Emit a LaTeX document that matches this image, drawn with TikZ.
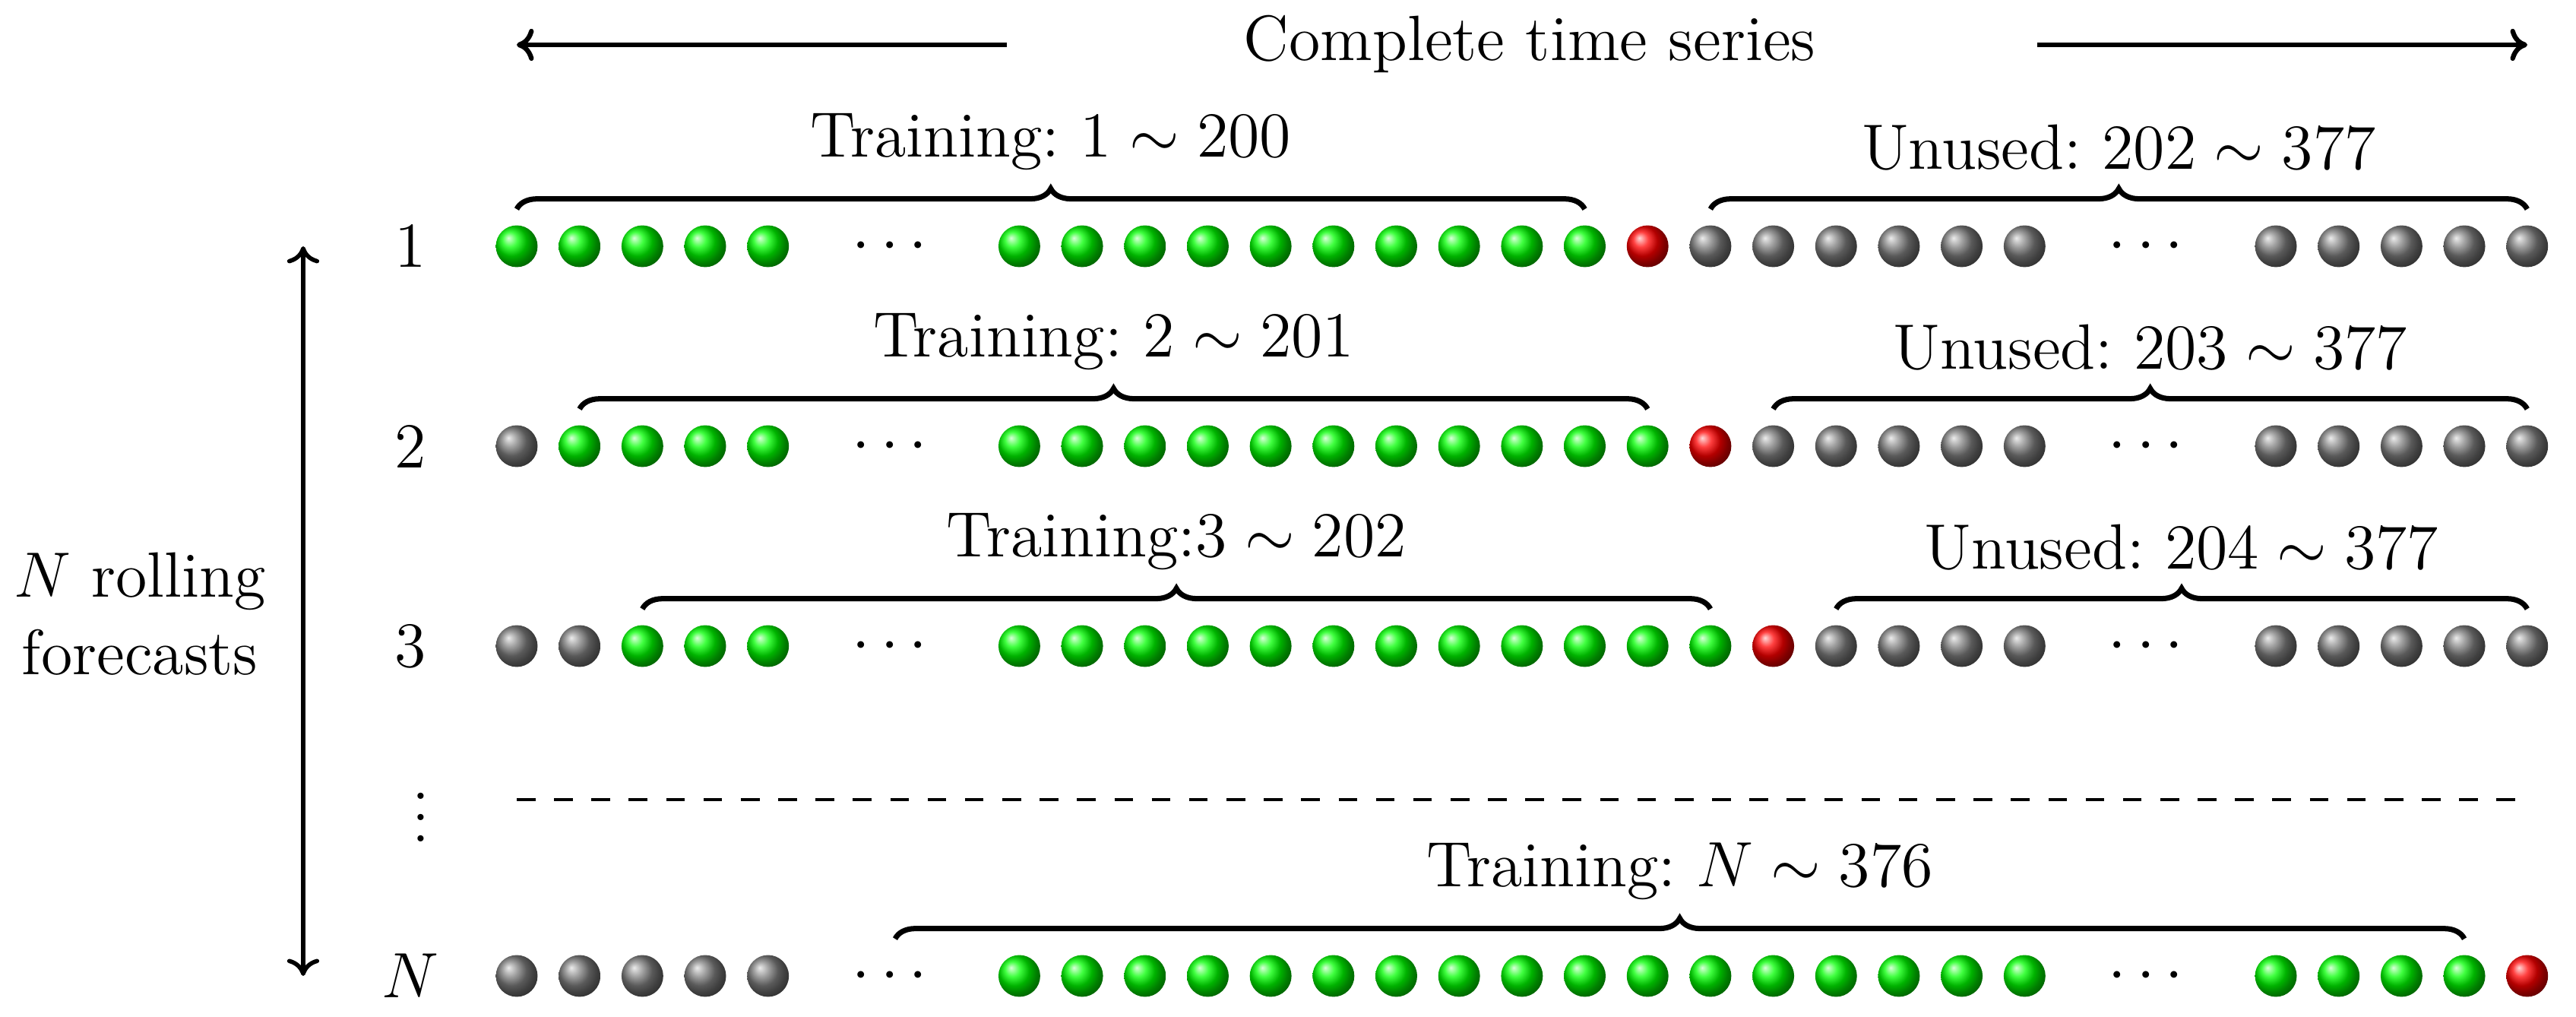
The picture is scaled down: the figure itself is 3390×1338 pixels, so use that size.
\documentclass[tikz,border=0pt]{standalone}
\usetikzlibrary{decorations.pathreplacing,arrows.meta,calc}
\begin{document}
\frenchspacing
\begin{tikzpicture}[x=0.005cm, y=-0.005cm, font=\fontsize{12}{14.5}\selectfont\frenchspacing]
\tikzset{
  ballbase/.style={circle, minimum size=0.275cm, inner sep=0pt, shading=ball},
  gb/.style={ballbase, ball color=green},
  rb/.style={ballbase, ball color=red},
  kb/.style={ballbase, ball color=gray},
  brc/.style={decorate, decoration={brace, amplitude=0.135cm}, line width=1pt},
  arr/.style={line width=0.9pt, -{To[length=3.2pt,width=6pt]}},
  arrtwo/.style={line width=0.8pt, {To[length=3.2pt,width=6pt]}-{To[length=3.2pt,width=6pt]}},
  dotsnode/.style={anchor=base, inner sep=0pt},
}
\useasboundingbox (0,0) rectangle (3390,1338);

% ---------- Row 1 ----------
\foreach \k in {0,...,4}   \node[gb] (r1k\k) at ({680+82.68*\k},324) {};
\foreach \k in {8,...,17}  \node[gb] (r1k\k) at ({680+82.68*\k},324) {};
\node[rb] (r1k18) at ({680+82.68*18},324) {};
\foreach \k in {19,...,24} \node[kb] (r1k\k) at ({680+82.68*\k},324) {};
\foreach \k in {28,...,32} \node[kb] (r1k\k) at ({680+82.68*\k},324) {};
\node[dotsnode] (r1d1) at (1171,344) {$\cdots$};
\node[dotsnode] (r1d2) at (2824,344) {$\cdots$};

% ---------- Row 2 ----------
\node[kb] (r2k0) at (680,587) {};
\foreach \k in {1,...,4}   \node[gb] (r2k\k) at ({680+82.68*\k},587) {};
\foreach \k in {8,...,18}  \node[gb] (r2k\k) at ({680+82.68*\k},587) {};
\node[rb] (r2k19) at ({680+82.68*19},587) {};
\foreach \k in {20,...,24} \node[kb] (r2k\k) at ({680+82.68*\k},587) {};
\foreach \k in {28,...,32} \node[kb] (r2k\k) at ({680+82.68*\k},587) {};
\node[dotsnode] (r2d1) at (1171,607) {$\cdots$};
\node[dotsnode] (r2d2) at (2824,607) {$\cdots$};

% ---------- Row 3 ----------
\foreach \k in {0,1}       \node[kb] (r3k\k) at ({680+82.68*\k},850) {};
\foreach \k in {2,...,4}   \node[gb] (r3k\k) at ({680+82.68*\k},850) {};
\foreach \k in {8,...,19}  \node[gb] (r3k\k) at ({680+82.68*\k},850) {};
\node[rb] (r3k20) at ({680+82.68*20},850) {};
\foreach \k in {21,...,24} \node[kb] (r3k\k) at ({680+82.68*\k},850) {};
\foreach \k in {28,...,32} \node[kb] (r3k\k) at ({680+82.68*\k},850) {};
\node[dotsnode] (r3d1) at (1171,870) {$\cdots$};
\node[dotsnode] (r3d2) at (2824,870) {$\cdots$};

% ---------- Row N ----------
\foreach \k in {0,...,4}   \node[kb] (rNk\k) at ({680+82.68*\k},1284) {};
\foreach \k in {8,...,24}  \node[gb] (rNk\k) at ({680+82.68*\k},1284) {};
\foreach \k in {28,...,31} \node[gb] (rNk\k) at ({680+82.68*\k},1284) {};
\node[rb] (rNk32) at ({680+82.68*32},1284) {};
\node[dotsnode] (rNd1) at (1171,1304) {$\cdots$};
\node[dotsnode] (rNd2) at (2824,1304) {$\cdots$};

% ---------- Braces ----------
\draw[brc] ([yshift=0.1cm]r1k0.north) -- ([yshift=0.1cm]r1k17.north)
  node[midway, above=0.12cm] (t1) {Training: $1\sim200$};
\draw[brc] ([yshift=0.1cm]r1k19.north) -- ([yshift=0.1cm]r1k32.north)
  node[midway, above=0.12cm] (u1) {Unused: $202\sim377$};
\draw[brc] ([yshift=0.1cm]r2k1.north) -- ([yshift=0.1cm]r2k18.north)
  node[midway, above=0.12cm] (t2) {Training: $2\sim201$};
\draw[brc] ([yshift=0.1cm]r2k20.north) -- ([yshift=0.1cm]r2k32.north)
  node[midway, above=0.12cm] (u2) {Unused: $203\sim377$};
\draw[brc] ([yshift=0.1cm]r3k2.north) -- ([yshift=0.1cm]r3k19.north)
  node[midway, above=0.12cm] (t3) {Training:$3\sim202$};
\draw[brc] ([yshift=0.1cm]r3k21.north) -- ([yshift=0.1cm]r3k32.north)
  node[midway, above=0.12cm] (u3) {Unused: $204\sim377$};
\coordinate (bNs) at ($(rNd1.center |- rNk8.north)+(7,-20)$);
\draw[brc] (bNs) -- ([yshift=0.1cm]rNk31.north)
  node[midway, above=0.12cm] (tN) {Training: $N\sim376$};

% ---------- Top arrows ----------
\node[anchor=base] (cts) at (2013,80) {Complete time series};
\coordinate (alS) at (1325,59);
\coordinate (alE) at (680,59);
\coordinate (arS) at (2681,59);
\coordinate (arE) at (3326,59);
\draw[arr] (alS) -- (alE);
\draw[arr] (arS) -- (arE);

% ---------- Left side ----------
\node (l1) at (540,324) {1};
\node (l2) at (540,587) {2};
\node (l3) at (540,850) {3};
\node[anchor=base, inner sep=0pt] (lv) at (554,1108) {$\vdots$};
\node (lN) at (540,1284) {$N$};
\coordinate (vt) at (399,324);
\coordinate (vb) at (399,1284);
\draw[arrtwo] (vt) -- (vb);
\node[align=center] (nrf) at (184,808) {$N$ rolling\\forecasts};

% ---------- Dashed separator ----------
\coordinate (dl) at (680,1052);
\coordinate (dr) at (3326,1052);
\draw[line width=0.7pt, dash pattern=on 3.5pt off 3.5pt] (dl) -- (dr);
\end{tikzpicture}
\end{document}
